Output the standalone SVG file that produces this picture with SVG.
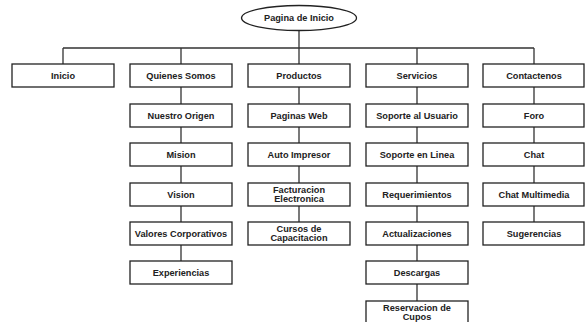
<svg xmlns="http://www.w3.org/2000/svg" width="585" height="322" viewBox="0 0 585 322">
<style>
.b{fill:#fff;stroke:#222;stroke-width:1.3}
.t{font-family:"Liberation Sans",Arial,sans-serif;font-weight:bold;font-size:9.2px;fill:#222;text-anchor:middle}
.c{stroke:#333;stroke-width:1.3;fill:none}
</style>
<rect width="585" height="322" fill="#fff"/>
<g id="connectors">
<path class="c" d="M299 30.5V48M63 48H534M63 48V64M181 48V64M299 48V64M417 48V64M534 48V64"/>
<path class="c" d="M181 87V104M181 127V143M181 166V183M181 206V222M181 245V261"/>
<path class="c" d="M299 87V104M299 127V143M299 166V183M299 206V222"/>
<path class="c" d="M417 87V104M417 127V143M417 166V183M417 206V222M417 245V261M417 284V301"/>
<path class="c" d="M534 87V104M534 127V143M534 166V183M534 206V222"/>
</g>
<g id="root"><ellipse class="b" cx="299" cy="18" rx="57.5" ry="12.5"/><text class="t" x="299" y="21.3">Pagina de Inicio</text></g>
<g id="inicio"><rect class="b" x="12" y="64" width="102" height="23"/><text class="t" x="63" y="78.8">Inicio</text></g>
<g id="quienes"><rect class="b" x="130" y="64" width="102" height="23"/><text class="t" x="181" y="78.8">Quienes Somos</text></g>
<g id="productos"><rect class="b" x="248" y="64" width="102" height="23"/><text class="t" x="299" y="78.8">Productos</text></g>
<g id="servicios"><rect class="b" x="366" y="64" width="102" height="23"/><text class="t" x="417" y="78.8">Servicios</text></g>
<g id="contactenos"><rect class="b" x="483" y="64" width="101" height="23"/><text class="t" x="534" y="78.8">Contactenos</text></g>

<g id="origen"><rect class="b" x="130" y="104" width="102" height="23"/><text class="t" x="181" y="118.8">Nuestro Origen</text></g>
<g id="mision"><rect class="b" x="130" y="143" width="102" height="23"/><text class="t" x="181" y="157.8">Mision</text></g>
<g id="vision"><rect class="b" x="130" y="183" width="102" height="23"/><text class="t" x="181" y="197.8">Vision</text></g>
<g id="valores"><rect class="b" x="130" y="222" width="102" height="23"/><text class="t" x="181" y="236.8">Valores Corporativos</text></g>
<g id="experiencias"><rect class="b" x="130" y="261" width="102" height="23"/><text class="t" x="181" y="275.8">Experiencias</text></g>

<g id="paginas"><rect class="b" x="248" y="104" width="102" height="23"/><text class="t" x="299" y="118.8">Paginas Web</text></g>
<g id="auto"><rect class="b" x="248" y="143" width="102" height="23"/><text class="t" x="299" y="157.8">Auto Impresor</text></g>
<g id="facturacion"><rect class="b" x="248" y="183" width="102" height="23"/><text class="t" x="299" y="192.5">Facturacion</text><text class="t" x="299" y="201.5">Electronica</text></g>
<g id="cursos"><rect class="b" x="248" y="222" width="102" height="23"/><text class="t" x="299" y="231.5">Cursos de</text><text class="t" x="299" y="240.5">Capacitacion</text></g>

<g id="soporte-usuario"><rect class="b" x="366" y="104" width="102" height="23"/><text class="t" x="417" y="118.8">Soporte al Usuario</text></g>
<g id="soporte-linea"><rect class="b" x="366" y="143" width="102" height="23"/><text class="t" x="417" y="157.8">Soporte en Linea</text></g>
<g id="requerimientos"><rect class="b" x="366" y="183" width="102" height="23"/><text class="t" x="417" y="197.8">Requerimientos</text></g>
<g id="actualizaciones"><rect class="b" x="366" y="222" width="102" height="23"/><text class="t" x="417" y="236.8">Actualizaciones</text></g>
<g id="descargas"><rect class="b" x="366" y="261" width="102" height="23"/><text class="t" x="417" y="275.8">Descargas</text></g>
<g id="reservacion"><rect class="b" x="366" y="301" width="102" height="23"/><text class="t" x="417" y="310.5">Reservacion de</text><text class="t" x="417" y="319.5">Cupos</text></g>

<g id="foro"><rect class="b" x="483" y="104" width="101" height="23"/><text class="t" x="534" y="118.8">Foro</text></g>
<g id="chat"><rect class="b" x="483" y="143" width="101" height="23"/><text class="t" x="534" y="157.8">Chat</text></g>
<g id="chat-multimedia"><rect class="b" x="483" y="183" width="101" height="23"/><text class="t" x="534" y="197.8">Chat Multimedia</text></g>
<g id="sugerencias"><rect class="b" x="483" y="222" width="101" height="23"/><text class="t" x="534" y="236.8">Sugerencias</text></g>
</svg>
